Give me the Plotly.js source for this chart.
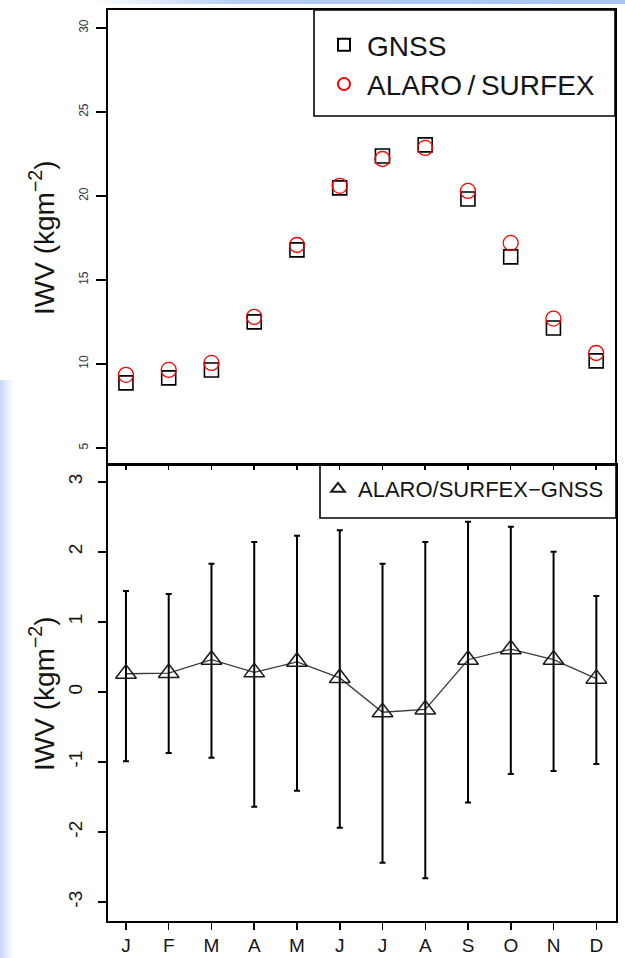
<!DOCTYPE html>
<html>
<head>
<meta charset="utf-8">
<script src="https://cdn.plot.ly/plotly-3.0.1.min.js"></script>
<style>
  html, body { margin: 0; padding: 0; }
  body {
    width: 625px; height: 958px; overflow: hidden;
    background:
      linear-gradient(to right, rgba(196,214,246,1) 0px, rgba(218,230,250,0.8) 6px, rgba(255,255,255,0) 14px) 0 380px / 14px 578px no-repeat,
      linear-gradient(to right, rgba(255,255,255,0) 90px, #b3ccf3 240px, #a8c4f2 625px) 0 0 / 625px 4px no-repeat,
      #ffffff;
  }
  #chart { width: 625px; height: 958px; }
</style>
</head>
<body>
<div id="chart"></div>
<script>
// ---- data ----
var months = ['J', 'F', 'M', 'A', 'M', 'J', 'J', 'A', 'S', 'O', 'N', 'D'];
var gnss  = [8.87, 9.17, 9.64, 12.5, 16.79, 20.48, 22.38, 23.04, 19.82, 16.37, 12.14, 10.18];
var alaro = [9.35, 9.64, 10.06, 12.8, 17.08, 20.6, 22.2, 22.86, 20.3, 17.2, 12.7, 10.65];
var diffMean  = [0.26, 0.27, 0.46, 0.28, 0.43, 0.20, -0.29, -0.25, 0.46, 0.61, 0.46, 0.19];
var diffUpper = [1.44, 1.40, 1.83, 2.14, 2.23, 2.31, 1.83, 2.14, 2.43, 2.36, 2.00, 1.37];
var diffLower = [-0.99, -0.87, -0.94, -1.64, -1.41, -1.94, -2.44, -2.66, -1.58, -1.17, -1.13, -1.03];
var topTicks = [5, 10, 15, 20, 25, 30];
var bottomTicks = [-3, -2, -1, 0, 1, 2, 3];
var yTitle = 'IWV (kgm<sup>\u22122</sup>)';

var xPos = months.map(function (_, i) { return i + 1; });
var errPlus = diffUpper.map(function (u, i) { return u - diffMean[i]; });
var errMinus = diffLower.map(function (l, i) { return diffMean[i] - l; });

var W = 625, H = 958;
function px(x) { return x / W; }
function py(y) { return 1 - y / H; }

var FONT = 'Liberation Sans, Arial, sans-serif';
var TXT = '#141414';

var traces = [
  {
    x: xPos, y: gnss, name: 'GNSS', mode: 'markers', type: 'scatter',
    xaxis: 'x', yaxis: 'y', legend: 'legend',
    marker: { symbol: 'square-open', size: 14, color: '#000', line: { width: 1.6 } }
  },
  {
    x: xPos, y: alaro, name: 'ALARO\u2009/\u2009SURFEX', mode: 'markers', type: 'scatter',
    xaxis: 'x', yaxis: 'y', legend: 'legend',
    marker: { symbol: 'circle-open', size: 15, color: '#ff0000', line: { width: 1.3 } }
  },
  {
    x: xPos, y: diffMean, mode: 'lines', type: 'scatter', showlegend: false,
    xaxis: 'x2', yaxis: 'y2',
    line: { color: '#3a3a3a', width: 1.3 }
  },
  {
    x: xPos, y: diffMean, name: 'ALARO/SURFEX\u2212GNSS', mode: 'markers', type: 'scatter',
    xaxis: 'x2', yaxis: 'y2', legend: 'legend2',
    marker: { symbol: 'triangle-up-open', size: 18, color: '#1a1a1a', line: { width: 1.5 } },
    error_y: { type: 'data', symmetric: false, array: errPlus, arrayminus: errMinus,
               color: '#000', thickness: 2, width: 3 }
  }
];

var axisCommon = {
  showline: true, linecolor: '#000', linewidth: 1.6, mirror: true,
  showgrid: false, zeroline: false, ticks: 'outside', tickcolor: '#000', tickwidth: 1.5
};

var layout = {
  width: W, height: H, autosize: false,
  margin: { l: 0, r: 0, t: 0, b: 0, pad: 0 },
  paper_bgcolor: 'rgba(0,0,0,0)', plot_bgcolor: '#ffffff',
  font: { family: FONT, color: TXT },
  showlegend: true,
  xaxis: Object.assign({}, axisCommon, {
    domain: [px(108), px(615)], anchor: 'y', range: [0.58, 12.44],
    tickvals: xPos, ticktext: months, showticklabels: false, ticklen: 4
  }),
  yaxis: Object.assign({}, axisCommon, {
    domain: [py(464), py(10)], anchor: 'x', range: [4.04, 31.07],
    tickvals: topTicks, ticktext: topTicks.map(String), ticklen: 10, tickangle: -90,
    tickfont: { size: 12, color: '#333', family: FONT }, ticklabelstandoff: 4
  }),
  xaxis2: Object.assign({}, axisCommon, {
    domain: [px(108), px(616)], anchor: 'y2', range: [0.58, 12.46],
    tickvals: xPos, ticktext: months, ticklen: 7,
    tickfont: { size: 19, color: TXT, family: FONT }, ticklabelstandoff: 0
  }),
  yaxis2: Object.assign({}, axisCommon, {
    domain: [py(921), py(465)], anchor: 'x2', range: [-3.27, 3.24],
    tickvals: bottomTicks, ticktext: bottomTicks.map(String), ticklen: 8, tickangle: -90,
    tickfont: { size: 19, color: TXT, family: FONT }, ticklabelstandoff: 9
  }),
  legend: {
    x: px(321), y: py(20), xanchor: 'left', yanchor: 'top',
    bgcolor: 'rgba(0,0,0,0)', borderwidth: 0, itemwidth: 36,
    font: { size: 28, color: TXT, family: FONT }, itemsizing: 'constant'
  },
  legend2: {
    x: px(318), y: py(468), xanchor: 'left', yanchor: 'top',
    bgcolor: 'rgba(0,0,0,0)', borderwidth: 0,
    font: { size: 22, color: TXT, family: FONT }, itemsizing: 'constant'
  },
  shapes: [
    { type: 'rect', xref: 'paper', yref: 'paper', x0: px(314), x1: px(615), y0: py(116), y1: py(10),
      line: { color: '#000', width: 1.6 }, fillcolor: 'rgba(0,0,0,0)' },
    { type: 'rect', xref: 'paper', yref: 'paper', x0: px(320), x1: px(616), y0: py(518), y1: py(465),
      line: { color: '#000', width: 1.6 }, fillcolor: 'rgba(0,0,0,0)' }
  ],
  annotations: [
    { text: yTitle, xref: 'paper', yref: 'paper', x: px(42), y: py(238), textangle: -90,
      showarrow: false, xanchor: 'center', yanchor: 'middle',
      font: { size: 28, color: TXT, family: FONT } },
    { text: yTitle, xref: 'paper', yref: 'paper', x: px(42), y: py(694), textangle: -90,
      showarrow: false, xanchor: 'center', yanchor: 'middle',
      font: { size: 28, color: TXT, family: FONT } }
  ]
};

Plotly.newPlot('chart', traces, layout, { displayModeBar: false, staticPlot: true });
</script>
</body>
</html>
